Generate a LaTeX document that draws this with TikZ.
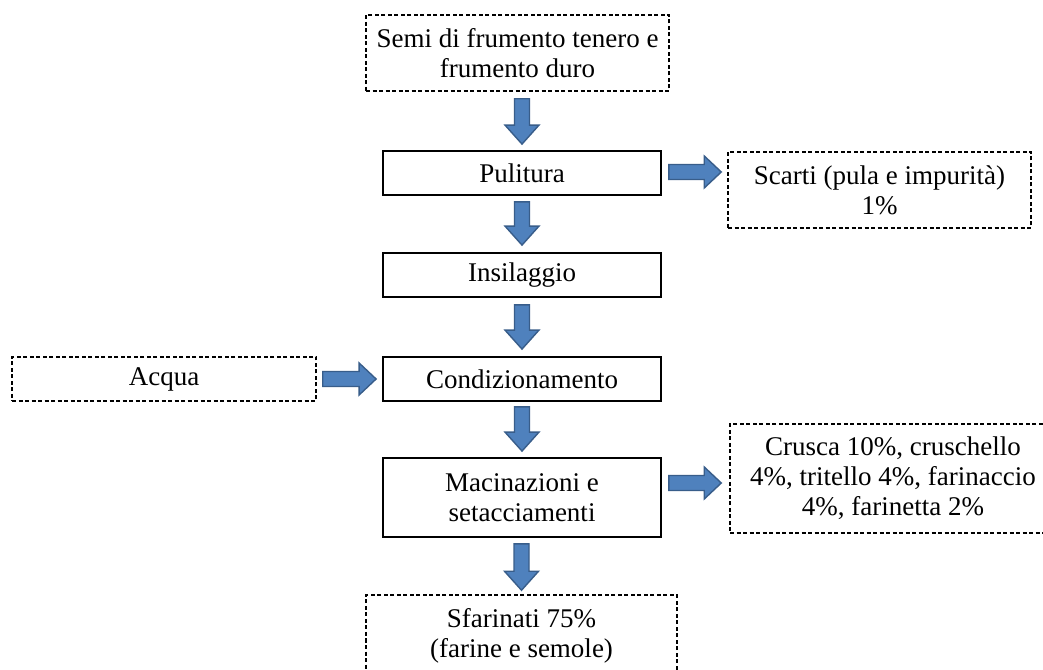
\documentclass[tikz,border=0pt]{standalone}
\usepackage{fontspec}
\setmainfont{Liberation Serif}
\usetikzlibrary{calc}

\definecolor{arrowfill}{HTML}{4F81BD}
\definecolor{arrowline}{HTML}{385D8A}

\tikzset{
  stage/.style={draw, line width=1.8pt, align=center, inner sep=0pt,
    font=\fontsize{27}{30}\selectfont},
  flow/.style={stage, line width=1.5pt, dash pattern=on 4pt off 2.5pt},
  blockarrow/.style={fill=arrowfill, draw=arrowline, line width=1.4pt, line join=miter}
}

% thick block arrow pointing down, from #1 to #2 (x taken from #2)
\newcommand{\fatdown}[2]{%
  \draw[blockarrow] let \p1=#1, \p2=#2 in
    (\x2-7.5pt,\y1) -- (\x2+7.5pt,\y1) -- (\x2+7.5pt,\y2+19pt) -- (\x2+17pt,\y2+19pt)
    -- (\x2,\y2) -- (\x2-17pt,\y2+19pt) -- (\x2-7.5pt,\y2+19pt) -- cycle;}

% thick block arrow pointing right, from #1 to #2 (y taken from #1)
\newcommand{\fatright}[2]{%
  \draw[blockarrow] let \p1=#1, \p2=#2 in
    (\x1,\y1+7.5pt) -- (\x2-17pt,\y1+7.5pt) -- (\x2-17pt,\y1+16pt) -- (\x2,\y1)
    -- (\x2-17pt,\y1-16pt) -- (\x2-17pt,\y1-7.5pt) -- (\x1,\y1-7.5pt) -- cycle;}

\begin{document}
\begin{tikzpicture}[x=1pt, y=1pt]
  \clip (0,0) rectangle (1043,669);
  \fill[white] (0,0) rectangle (1043,669);

  % process stages
  \node[flow,  minimum width=303pt, minimum height=76pt] (semi)   at (517.5,616) {Semi di frumento tenero e\\frumento duro};
  \node[stage, minimum width=278pt, minimum height=44pt] (pul)    at (522,496)   {Pulitura};
  \node[flow,  minimum width=303pt, minimum height=76pt] (scarti) at (879.5,479) {Scarti (pula e impurità)\\1\%};
  \node[stage, minimum width=278pt, minimum height=44pt] (insil)  at (522,394)   {Insilaggio};
  \node[flow,  minimum width=304pt, minimum height=44pt] (acqua)  at (164,290)   {Acqua};
  \node[stage, minimum width=278pt, minimum height=44pt] (cond)   at (522,290)   {Condizionamento};
  \node[stage, minimum width=278pt, minimum height=79pt] (mac)    at (522,171.5) {Macinazioni e\\setacciamenti};
  \node[flow,  minimum width=326pt, minimum height=109pt] (crusca) at (893,190.5) {Crusca 10\%, cruschello\\4\%, tritello 4\%, farinaccio\\4\%, farinetta 2\%};
  \node[flow,  minimum width=311pt, minimum height=82pt] (sfar)   at (521.5,33)  {Sfarinati 75\%\\(farine e semole)};

  % main line
  \fatdown{($(semi.south)+(0,-7)$)}{($(pul.north)+(0,6)$)}
  \fatdown{($(pul.south)+(0,-6)$)}{($(insil.north)+(0,7)$)}
  \fatdown{($(insil.south)+(0,-7)$)}{($(cond.north)+(0,7)$)}
  \fatdown{($(cond.south)+(0,-5)$)}{($(mac.north)+(0,6)$)}
  \fatdown{($(mac.south)+(0,-6)$)}{($(sfar.north)+(0,4)$)}

  % side inputs and outputs
  \fatright{($(pul.east)+(7,1)$)}{($(scarti.west)+(-6,0)$)}
  \fatright{($(acqua.east)+(6,0)$)}{($(cond.west)+(-6,0)$)}
  \fatright{($(mac.east)+(7,14.5)$)}{($(crusca.west)+(-8,0)$)}
\end{tikzpicture}
\end{document}
